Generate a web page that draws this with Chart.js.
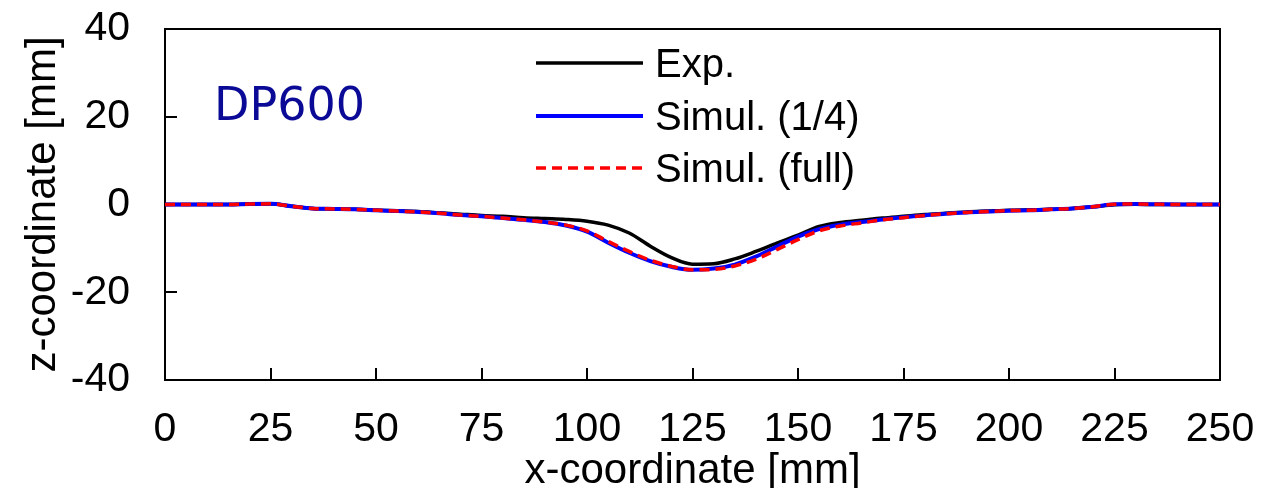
<!DOCTYPE html>
<html>
<head>
<meta charset="utf-8">
<script src="https://cdn.jsdelivr.net/npm/chart.js@4/dist/chart.umd.min.js"></script>
<style>
  html, body { margin: 0; padding: 0; background: #fff; }
  #wrap { width: 1261px; height: 488px; }
</style>
</head>
<body>
<div id="wrap"><canvas id="c" width="1261" height="488"></canvas></div>
<script>
// x positions along the specimen [mm]
const xCoord = [0,5,10,15,20,25,30,35,40,45,50,55,60,65,70,75,80,85,90,95,100,105,110,115,120,125,130,135,140,145,150,155,160,165,170,175,180,185,190,195,200,205,210,215,220,225,230,235,240,245,250];

// measured profile
const zExp = [0,0,0,0,0.1,0.15,-0.4,-0.9,-1.0,-1.1,-1.3,-1.4,-1.6,-1.9,-2.2,-2.5,-2.7,-3.0,-3.2,-3.4,-3.8,-4.7,-6.5,-9.5,-12.1,-13.6,-13.5,-12.4,-10.7,-8.8,-7.0,-5.0,-4.1,-3.6,-3.1,-2.7,-2.3,-2.0,-1.7,-1.5,-1.3,-1.2,-1.1,-0.9,-0.5,-0.05,0.05,0,0,0,0];

// quarter model simulation
const zQuarter = [0,0,0,0,0.1,0.15,-0.4,-0.9,-1.0,-1.1,-1.3,-1.5,-1.7,-2.0,-2.4,-2.7,-3.1,-3.5,-4.0,-4.8,-6.2,-8.7,-11.0,-12.9,-14.2,-14.9,-14.6,-13.7,-11.9,-9.6,-7.3,-5.6,-4.6,-4.0,-3.4,-2.9,-2.5,-2.1,-1.8,-1.6,-1.4,-1.3,-1.1,-0.9,-0.5,0.05,0.1,0.05,0,0,0];

// full model simulation
const zFull = [0,0,0,0,0.1,0.15,-0.4,-0.9,-1.0,-1.1,-1.3,-1.5,-1.7,-2.0,-2.4,-2.7,-3.1,-3.5,-4.0,-4.7,-6.0,-8.4,-10.7,-12.7,-14.1,-14.9,-14.8,-14.0,-12.5,-10.3,-8.0,-6.0,-4.9,-4.2,-3.5,-3.0,-2.5,-2.1,-1.8,-1.6,-1.4,-1.3,-1.1,-0.9,-0.5,0.05,0.1,0.05,0,0,0];

const seriesNames = ['Exp.', 'Simul. (1/4)', 'Simul. (full)'];
const xTicks = [0,25,50,75,100,125,150,175,200,225,250];
const yTicks = [-40,-20,0,20,40];
const materialLabel = 'DP600';

const toPoints = (ys) => xCoord.map((x, i) => ({ x: x, y: ys[i] }));

const LABEL_FONT = 'Liberation Sans, Arial, sans-serif';

// frame around the plot area with inward tick marks
const framePlugin = {
  id: 'frame',
  beforeDatasetsDraw(chart) {
    const { ctx, chartArea: a, scales } = chart;
    ctx.save();
    ctx.strokeStyle = '#000';
    ctx.lineWidth = 2;
    ctx.strokeRect(a.left, a.top, a.right - a.left, a.bottom - a.top);
    ctx.beginPath();
    xTicks.forEach(v => {
      const px = Math.round(scales.x.getPixelForValue(v));
      if (px <= a.left + 1 || px >= a.right - 1) return;
      ctx.moveTo(px, a.bottom);
      ctx.lineTo(px, a.bottom - 12);
    });
    yTicks.forEach(v => {
      const py = Math.round(scales.y.getPixelForValue(v));
      if (py <= a.top + 1 || py >= a.bottom - 1) return;
      ctx.moveTo(a.left, py);
      ctx.lineTo(a.left + 12, py);
    });
    ctx.stroke();
    ctx.restore();
  }
};

// legend inside the plot and the material label
const insideLegendPlugin = {
  id: 'insideLegend',
  afterDraw(chart) {
    const { ctx } = chart;
    ctx.save();
    const rows = [63, 116, 168];
    chart.data.datasets.forEach((ds, i) => {
      const y = rows[i];
      ctx.strokeStyle = ds.borderColor;
      ctx.lineWidth = ds.borderWidth;
      ctx.setLineDash(ds.borderDash || []);
      ctx.lineCap = 'butt';
      ctx.beginPath();
      ctx.moveTo(536, y);
      ctx.lineTo(643, y);
      ctx.stroke();
      ctx.setLineDash([]);
      ctx.fillStyle = '#000';
      ctx.font = '40px ' + LABEL_FONT;
      ctx.textBaseline = 'alphabetic';
      ctx.textAlign = 'left';
      ctx.fillText(ds.label, 655, y + 14);
    });
    ctx.fillStyle = '#0a0a96';
    ctx.font = '46px "DejaVu Sans", sans-serif';
    ctx.textBaseline = 'alphabetic';
    ctx.fillText(materialLabel, 214, 120);
    ctx.restore();
  }
};

new Chart(document.getElementById('c'), {
  type: 'line',
  data: {
    datasets: [
      { label: seriesNames[0], data: toPoints(zExp), borderColor: '#000000', borderWidth: 3.5, pointRadius: 0, cubicInterpolationMode: 'monotone', order: 3, fill: false },
      { label: seriesNames[1], data: toPoints(zQuarter), borderColor: '#0000ff', borderWidth: 4, pointRadius: 0, cubicInterpolationMode: 'monotone', order: 2, fill: false },
      { label: seriesNames[2], data: toPoints(zFull), borderColor: '#ff0000', borderWidth: 3.5, borderDash: [10, 6], pointRadius: 0, cubicInterpolationMode: 'monotone', order: 1, fill: false }
    ]
  },
  options: {
    responsive: false,
    animation: false,
    devicePixelRatio: 1,
    layout: { padding: { top: 29, right: 41, left: 0, bottom: 0 } },
    plugins: { legend: { display: false }, tooltip: { enabled: false } },
    scales: {
      x: {
        type: 'linear', min: 0, max: 250,
        afterBuildTicks: (s) => { s.ticks = xTicks.map(v => ({ value: v })); },
        afterFit: (s) => { s.height = 108; s.paddingLeft = 0; s.paddingRight = 0; },
        grid: { display: false, drawTicks: false },
        border: { display: false },
        ticks: { color: '#000', font: { family: LABEL_FONT, size: 41 }, padding: 25, maxRotation: 0, autoSkip: false },
        title: { display: true, text: 'x-coordinate [mm]', color: '#000', font: { family: LABEL_FONT, size: 42, lineHeight: 0.8 }, padding: { top: 0, bottom: 0 } }
      },
      y: {
        type: 'linear', min: -40, max: 40,
        afterBuildTicks: (s) => { s.ticks = yTicks.map(v => ({ value: v })); },
        afterFit: (s) => { s.width = 165; s.paddingTop = 0; s.paddingBottom = 0; },
        grid: { display: false, drawTicks: false },
        border: { display: false },
        ticks: { color: '#000', font: { family: LABEL_FONT, size: 41 }, padding: 35 },
        title: { display: true, text: 'z-coordinate [mm]', color: '#000', font: { family: LABEL_FONT, size: 42 }, padding: { top: 18, bottom: 0 } }
      }
    }
  },
  plugins: [framePlugin, insideLegendPlugin]
});
</script>
</body>
</html>
